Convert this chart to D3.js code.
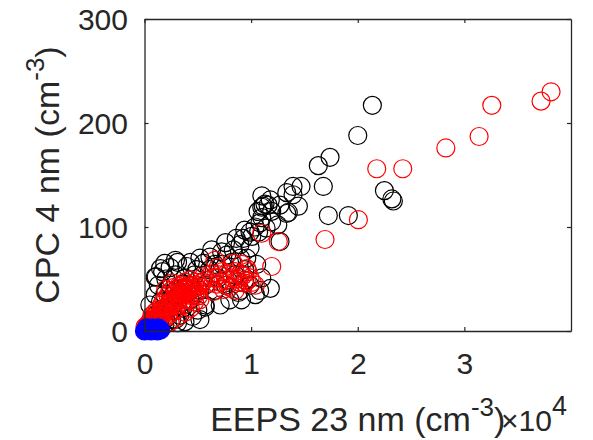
<!DOCTYPE html>
<html lang="en">
<head>
    <meta charset="UTF-8">
    <title>CPC vs EEPS</title>
    <script src="https://cdn.jsdelivr.net/npm/d3@7"></script>
    <style>
        body {
            margin: 0;
            padding: 0;
            background: #fff;
        }
        text {
            font-family: "Liberation Sans", Arial, Helvetica, sans-serif;
            fill: #262626;
        }
    </style>
</head>
<body>
<svg width="593" height="440" id="mainsvg"></svg>
<script>
    // x in cm^-3 (EEPS 23 nm), y in cm^-3 (CPC 4 nm)
    const blackPts = [
        [21370, 217], [20000, 188], [17400, 167], [16300, 159], [16770, 139], [13340, 133],
        [14680, 139], [14430, 120], [13490, 114], [17240, 111], [19120, 111], [22500, 135],
        [23340, 125], [23200, 127], [13930, 139],
        [13340, 113], [13930, 131], [11140, 120], [11590, 121], [11930, 115], [10650, 115],
        [10830, 104], [11930, 105], [10370, 100], [12710, 86], [10060, 91], [9270, 89],
        [8960, 83], [9900, 80], [8330, 78], [9590, 70], [10520, 64], [7710, 73], [7240, 76],
        [6140, 71], [5520, 65], [4900, 59], [3960, 62], [11000, 119], [11300, 122],
        [1700, 57], [2400, 61], [1300, 44], [1000, 35], [500, 25], [3100, 66], [4300, 66],
        [5200, 70], [6100, 59], [7300, 64], [8200, 66], [9000, 70], [8500, 54], [9400, 59],
        [9900, 44], [10800, 39], [10400, 35], [9000, 39], [8000, 30], [7100, 25], [5700, 25],
        [5000, 20], [4300, 30], [3300, 15], [2900, 11], [3800, 9], [1900, 6], [5200, 11],
        [2400, 30], [3300, 35], [4300, 44], [2400, 44], [1900, 35], [1500, 20], [2900, 54],
        [3800, 51], [4700, 54], [5700, 44], [6600, 39], [7600, 44], [7800, 49], [6900, 51],
        [9400, 49], [11000, 51], [11800, 41], [6300, 78], [7600, 85], [8600, 89], [10700, 95],
        [11400, 99], [11000, 109], [11800, 126], [11000, 130], [12700, 121], [12500, 102],
        [9900, 95], [9400, 97], [6600, 64], [5200, 39], [8800, 37], [9100, 30], [5700, 23],
        [4500, 14], [3100, 8], [2550, 11], [600, 10], [1000, 15], [1500, 28], [2000, 20],
        [800, 5], [300, 5], [1200, 8], [2000, 12], [2600, 20], [3600, 22], [3000, 40],
        [3600, 45], [4000, 36], [2000, 50], [1100, 52], [1900, 65], [1000, 52], [2900, 68],
        [1500, 60]
    ];
    const redPts = [
        [38130, 230], [37190, 221], [32570, 217], [31380, 187], [28260, 176], [24220, 156],
        [21780, 156], [20060, 107], [16930, 88],
        [11000, 94], [12550, 86], [11930, 62], [6610, 68], [8330, 65], [9120, 64], [9590, 60],
        [5200, 44], [5700, 49], [6100, 46], [6600, 51], [7100, 47], [7600, 49], [7800, 44],
        [8200, 51], [8800, 47], [9200, 53], [9400, 46], [8500, 39], [6500, 38], [9900, 51],
        [10400, 44], [7300, 57], [9700, 57],
        [5500, 52], [6300, 55], [6800, 45], [7000, 54], [7900, 55], [8500, 57], [8700, 50],
        [9000, 55], [9600, 48], [10100, 47], [6900, 61], [8000, 42], [7400, 40],
        [50, 4], [300, 6], [500, 9], [700, 11], [1000, 13], [1300, 14], [1500, 17], [1600, 19],
        [1900, 22], [2200, 25], [2400, 27], [2600, 30], [2900, 32], [3100, 34], [3300, 37],
        [3600, 39], [3900, 41], [4100, 43], [4300, 39], [4500, 35], [3800, 30], [3100, 25],
        [2600, 18], [1900, 13], [1300, 8], [1500, 13], [2200, 15], [2900, 20], [3600, 25],
        [4100, 30], [4700, 34], [3300, 41], [3000, 39], [2400, 38], [1900, 30], [1600, 25],
        [1000, 18], [700, 15], [3800, 47], [4300, 49], [4700, 44], [5000, 38], [4700, 28],
        [4300, 22], [3800, 18], [3100, 13], [2400, 9], [5200, 30], [2600, 46], [2000, 40],
        [100, 2], [200, 5], [400, 4], [600, 7], [800, 8], [900, 10], [1100, 11], [1200, 12],
        [1400, 15], [1700, 16], [1800, 20], [2000, 18], [2100, 22], [2300, 21], [2500, 24],
        [2700, 26], [2800, 28], [3000, 28], [3200, 30], [3400, 32], [3500, 35], [3700, 36],
        [3900, 37], [4000, 40], [4200, 41], [4400, 44], [4600, 41], [4800, 47], [3500, 44],
        [3200, 43], [2800, 42], [2200, 34], [1700, 27], [1200, 20], [800, 13], [4900, 42],
        [5400, 47], [5100, 34]
    ];
    const bluePts = [
        [0, 0], [100, 0.5], [300, 1], [600, 0], [900, 1], [1200, 0], [200, 3], [700, 3],
        [1000, 2], [400, 1.5], [1500, 1], [1300, 3]
    ];
    const xTicks = [0, 10000, 20000, 30000];
    const yTicks = [0, 100, 200, 300];

    const svg = d3.select("#mainsvg");
    const mLeft = 144.5, mRight = 571, mTop = 19, mBottom = 331;
    const x = d3.scaleLinear().domain([0, 40000]).range([mLeft, mRight]);
    const y = d3.scaleLinear().domain([0, 300]).range([mBottom, mTop]);
    const axisColor = "#262626";
    const r = 9;

    // markers (not clipped, like matlab)
    function drawPts(pts, stroke, fill) {
        svg.append("g")
            .selectAll("circle")
            .data(pts)
            .join("circle")
            .attr("cx", d => x(d[0]))
            .attr("cy", d => y(d[1]))
            .attr("r", r)
            .attr("fill", fill)
            .attr("stroke", stroke)
            .attr("stroke-width", 1.2);
    }
    drawPts(blackPts, "#000", "none");
    drawPts(redPts, "#ff0000", "none");
    drawPts(bluePts, "#0000ff", "#0000ff");

    // axes, ticks inward, mirrored on top/right
    let xAxis = svg.append("g")
        .attr("transform", "translate(0," + mBottom + ")")
        .call(d3.axisBottom(x).tickValues(xTicks).tickSizeInner(-4).tickSizeOuter(0)
            .tickFormat(d => d / 10000));
    let yAxis = svg.append("g")
        .attr("transform", "translate(" + mLeft + ",0)")
        .call(d3.axisLeft(y).tickValues(yTicks).tickSizeInner(-4).tickSizeOuter(0));
    svg.append("g")
        .attr("transform", "translate(0," + mTop + ")")
        .call(d3.axisTop(x).tickValues(xTicks).tickSizeInner(-4).tickSizeOuter(0).tickFormat(""));
    svg.append("g")
        .attr("transform", "translate(" + mRight + ",0)")
        .call(d3.axisRight(y).tickValues(yTicks).tickSizeInner(-4).tickSizeOuter(0).tickFormat(""));

    svg.selectAll(".domain").attr("stroke", axisColor).attr("stroke-width", 1.3);
    svg.selectAll(".tick line").attr("stroke", axisColor).attr("stroke-width", 1.2);

    xAxis.selectAll("text")
        .attr("y", 43)
        .attr("dy", null)
        .attr("font-size", 30)
        .attr("fill", axisColor);
    yAxis.selectAll("text")
        .attr("x", -16.5)
        .attr("dy", "0.34em")
        .attr("font-size", 30)
        .attr("fill", axisColor);

    // x label with superscript
    let xl = svg.append("text")
        .attr("x", (mLeft + mRight) / 2)
        .attr("y", 431)
        .attr("text-anchor", "middle")
        .attr("font-size", 34);
    xl.append("tspan").text("EEPS 23 nm (cm");
    xl.append("tspan").attr("font-size", 26).attr("dy", -15).text("-3");
    xl.append("tspan").attr("dy", 15).text(")");

    // exponent label
    let ex = svg.append("text")
        .attr("x", 501)
        .attr("y", 431)
        .attr("font-size", 30);
    ex.append("tspan").text("\u00d710");
    ex.append("tspan").attr("font-size", 27).attr("dy", -16).text("4");

    // y label
    let yl = svg.append("text")
        .attr("transform", "translate(59," + (mTop + mBottom) / 2 + ") rotate(-90)")
        .attr("text-anchor", "middle")
        .attr("font-size", 34);
    yl.append("tspan").text("CPC 4 nm (cm");
    yl.append("tspan").attr("font-size", 26).attr("dy", -15).text("-3");
    yl.append("tspan").attr("dy", 15).text(")");
</script>
</body>
</html>
